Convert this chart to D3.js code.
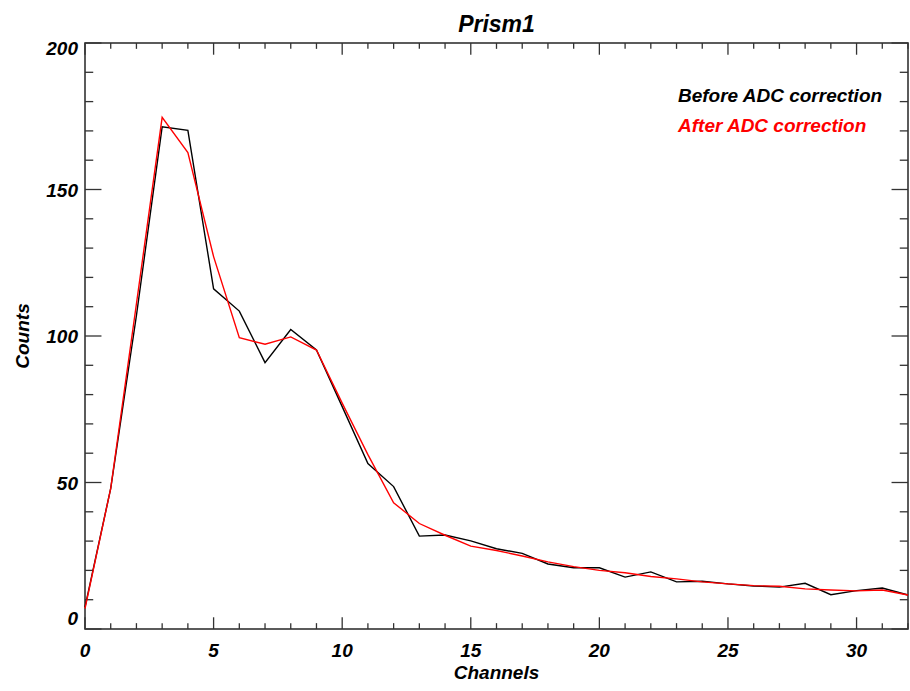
<!DOCTYPE html>
<html>
<head>
<meta charset="utf-8">
<script src="https://cdnjs.cloudflare.com/ajax/libs/d3/7.8.5/d3.min.js"></script>
<style>
  html, body { margin: 0; padding: 0; background: #fff; }
  text { font-family: "Liberation Sans", Arial, Helvetica, sans-serif; font-weight: bold; font-style: italic; }
</style>
</head>
<body>
<svg id="chart" width="910" height="691"></svg>
<script>
// ---- Data ----
const channels = d3.range(0, 33);
const beforeADC = [7.5, 48, 107, 171.4, 170.2, 116.1, 108.5, 90.9, 102.2, 95.2,
  75.9, 56.5, 48.6, 31.7, 32.1, 30.1, 27.4, 25.8, 22.2, 20.9,
  20.9, 17.7, 19.5, 16.1, 16.3, 15.4, 14.7, 14.3, 15.6, 11.7,
  13.1, 14.0, 11.6];
const afterADC = [7.0, 48, 111, 174.6, 162.6, 127.1, 99.4, 97.2, 99.7, 95.2,
  77.1, 59.5, 43.1, 36.0, 32.0, 28.3, 26.8, 24.9, 22.9, 21.3,
  20.0, 19.2, 17.9, 17.1, 16.1, 15.4, 14.8, 14.6, 13.7, 13.3,
  13.0, 13.3, 11.6];
const xMajorTicks = [0, 5, 10, 15, 20, 25, 30];
const yMajorTicks = [0, 50, 100, 150, 200];
const seriesNames = ["Before ADC correction", "After ADC correction"];
const seriesColors = ["#000000", "#ff0000"];
const titleText = "Prism1";
const xTitle = "Channels";
const yTitle = "Counts";

// ---- Layout ----
const W = 910, H = 691;
const m = { left: 85, right: 2, top: 43, bottom: 62 };
const pw = W - m.left - m.right, ph = H - m.top - m.bottom;

const svg = d3.select("#chart");
const g = svg.append("g").attr("transform", `translate(${m.left},${m.top})`);

const x = d3.scaleLinear().domain([0, 32]).range([0, pw]);
const y = d3.scaleLinear().domain([0, 200]).range([ph, 0]);

const axisColor = "#333";
const xMinor = d3.range(0, 33, 1);
const yMinor = d3.range(0, 201, 10);
const xLenMaj = ph * 0.02, xLenMin = xLenMaj / 2;
const yLenMaj = pw * 0.02, yLenMin = yLenMaj / 2;

// frame
g.append("rect").attr("x", 0).attr("y", 0).attr("width", pw).attr("height", ph)
  .attr("fill", "none").attr("stroke", axisColor).attr("stroke-width", 1.6);

// x ticks bottom & top
xMinor.forEach(v => {
  const len = (v % 5 === 0) ? xLenMaj : xLenMin;
  g.append("line").attr("x1", x(v)).attr("x2", x(v)).attr("y1", ph).attr("y2", ph - len)
    .attr("stroke", axisColor).attr("stroke-width", 1.3);
  g.append("line").attr("x1", x(v)).attr("x2", x(v)).attr("y1", 0).attr("y2", len)
    .attr("stroke", axisColor).attr("stroke-width", 1.3);
});
// y ticks left & right
yMinor.forEach(v => {
  const len = (v % 50 === 0) ? yLenMaj : yLenMin;
  g.append("line").attr("x1", 0).attr("x2", len).attr("y1", y(v)).attr("y2", y(v))
    .attr("stroke", axisColor).attr("stroke-width", 1.3);
  g.append("line").attr("x1", pw).attr("x2", pw - len).attr("y1", y(v)).attr("y2", y(v))
    .attr("stroke", axisColor).attr("stroke-width", 1.3);
});

// x tick labels
g.selectAll(".xl").data(xMajorTicks).enter().append("text")
  .attr("x", d => x(d)).attr("y", ph + 28)
  .attr("text-anchor", "middle").attr("font-size", 19).text(d => d);

// y tick labels (clamped inside frame like IDL)
g.selectAll(".yl").data(yMajorTicks).enter().append("text")
  .attr("x", -7)
  .attr("y", d => Math.max(12, Math.min(ph - 4, y(d) + 7)))
  .attr("text-anchor", "end").attr("font-size", 19).text(d => d);

// axis titles
g.append("text").attr("x", pw / 2).attr("y", ph + 50)
  .attr("text-anchor", "middle").attr("font-size", 19).text(xTitle);
svg.append("text")
  .attr("transform", `translate(29,${m.top + ph / 2}) rotate(-90)`)
  .attr("text-anchor", "middle").attr("font-size", 19).text(yTitle);

// title
svg.append("text").attr("x", m.left + pw / 2).attr("y", 31.5)
  .attr("text-anchor", "middle").attr("font-size", 23).text(titleText);

// lines
const line = d3.line().x((d, i) => x(channels[i])).y(d => y(d));
[beforeADC, afterADC].forEach((s, i) => {
  g.append("path").datum(s).attr("d", line)
    .attr("fill", "none").attr("stroke", seriesColors[i]).attr("stroke-width", 1.4)
    .attr("stroke-linejoin", "miter");
});

// legend
seriesNames.forEach((n, i) => {
  svg.append("text").attr("x", 678).attr("y", 101.5 + i * 30)
    .attr("font-size", 19).attr("fill", seriesColors[i]).text(n);
});
</script>
</body>
</html>
